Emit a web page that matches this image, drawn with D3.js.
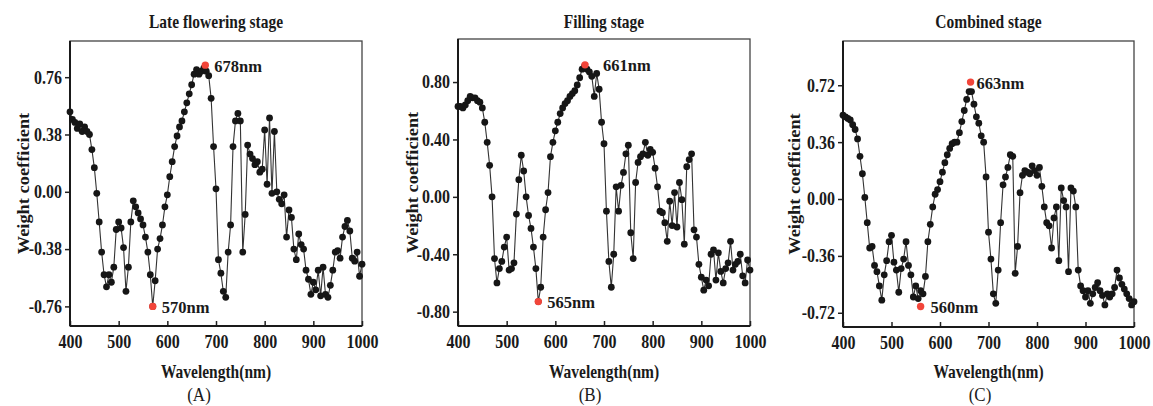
<!DOCTYPE html>
<html><head><meta charset="utf-8">
<script src="https://cdn.jsdelivr.net/npm/d3@7"></script>
<style>body{margin:0;background:#fff}</style>
</head><body><svg id="chart" width="1153" height="406"></svg>
<script>
// ---------------- DATA ----------------
const wavelengths = [
 400,405,410,415,420,425,430,435,440,445,
 450,455,460,465,470,475,480,485,490,495,
 500,505,510,515,520,525,530,535,540,545,
 550,555,560,565,570,575,580,585,590,595,
 600,605,610,615,620,625,630,635,640,645,
 650,655,660,665,670,675,680,685,690,695,
 700,705,710,715,720,725,730,735,740,745,
 750,755,760,765,770,775,780,785,790,795,
 800,805,810,815,820,825,830,835,840,845,
 850,855,860,865,870,875,880,885,890,895,
 900,905,910,915,920,925,930,935,940,945,
 950,955,960,965,970,975,980,985,990,995,
 1000];

const lateFlowering = [
 0.53,0.48,0.46,0.42,0.45,0.40,0.43,0.40,0.38,0.28,
 0.16,-0.01,-0.20,-0.40,-0.55,-0.63,-0.55,-0.60,-0.50,-0.25,
 -0.20,-0.24,-0.37,-0.66,-0.50,-0.20,-0.06,-0.10,-0.14,-0.18,
 -0.22,-0.30,-0.40,-0.55,-0.76,-0.59,-0.38,-0.31,-0.22,-0.10,
 -0.02,0.10,0.20,0.30,0.37,0.43,0.47,0.53,0.59,0.65,
 0.71,0.78,0.81,0.78,0.80,0.82,0.80,0.77,0.62,0.30,
 0.02,-0.45,-0.54,-0.66,-0.70,-0.40,-0.22,0.30,0.47,0.52,
 0.47,-0.40,-0.15,0.31,0.25,0.22,0.18,0.20,0.13,0.15,
 0.41,0.05,0.49,-0.01,0.40,0.00,-0.05,-0.08,-0.02,-0.30,
 -0.12,-0.17,-0.38,-0.45,-0.28,-0.35,-0.38,-0.52,-0.58,-0.68,
 -0.60,-0.65,-0.52,-0.69,-0.50,-0.68,-0.70,-0.62,-0.52,-0.40,
 -0.39,-0.44,-0.30,-0.23,-0.19,-0.26,-0.44,-0.46,-0.40,-0.56,
 -0.48];

const filling = [
 0.63,0.63,0.62,0.64,0.67,0.70,0.69,0.69,0.67,0.66,
 0.62,0.52,0.38,0.22,0.00,-0.43,-0.60,-0.50,-0.45,-0.35,
 -0.28,-0.51,-0.50,-0.46,-0.12,0.12,0.29,0.18,0.00,-0.13,
 -0.22,-0.35,-0.50,-0.73,-0.63,-0.28,-0.09,0.03,0.28,0.38,
 0.46,0.52,0.58,0.62,0.65,0.67,0.70,0.72,0.74,0.78,
 0.83,0.89,0.91,0.89,0.87,0.84,0.70,0.86,0.75,0.52,
 0.37,-0.10,-0.45,-0.63,-0.40,0.07,-0.10,0.08,0.17,0.30,
 0.36,-0.25,-0.43,0.10,0.24,0.28,0.30,0.38,0.29,0.33,
 0.31,0.20,0.07,-0.10,-0.11,-0.18,-0.31,-0.03,-0.20,0.03,
 -0.21,0.10,-0.02,-0.33,0.21,0.26,0.30,-0.23,-0.28,-0.47,
 -0.56,-0.65,-0.58,-0.62,-0.40,-0.37,-0.58,-0.39,-0.52,-0.60,
 -0.50,-0.46,-0.31,-0.51,-0.47,-0.45,-0.40,-0.55,-0.60,-0.44,
 -0.51];

const combined = [
 0.53,0.52,0.51,0.50,0.47,0.44,0.38,0.27,0.16,0.01,
 -0.15,-0.31,-0.30,-0.42,-0.46,-0.55,-0.64,-0.48,-0.39,-0.27,
 -0.23,-0.40,-0.45,-0.59,-0.44,-0.38,-0.27,-0.42,-0.48,-0.62,
 -0.55,-0.63,-0.58,-0.60,-0.49,-0.27,-0.16,-0.05,0.03,0.06,
 0.11,0.17,0.23,0.28,0.32,0.35,0.36,0.36,0.42,0.49,
 0.56,0.63,0.68,0.68,0.60,0.52,0.48,0.40,0.36,0.14,
 -0.21,-0.38,-0.60,-0.66,-0.45,-0.15,0.09,0.14,0.20,0.28,
 0.27,-0.47,-0.30,0.04,0.15,0.18,0.17,0.16,0.21,0.18,
 0.15,0.20,0.08,-0.05,-0.15,-0.17,-0.31,-0.12,-0.05,-0.39,
 0.07,-0.01,-0.05,-0.46,0.07,0.05,-0.05,-0.45,-0.55,-0.58,
 -0.62,-0.58,-0.66,-0.60,-0.56,-0.53,-0.58,-0.61,-0.67,-0.60,
 -0.62,-0.60,-0.56,-0.45,-0.50,-0.54,-0.57,-0.60,-0.63,-0.67,
 -0.65];

const xTickValues = [400,500,600,700,800,900,1000];
const yTicksA = [-0.76,-0.38,0,0.38,0.76];
const yTicksB = [-0.80,-0.40,0,0.40,0.80];
const yTicksC = [-0.72,-0.36,0,0.36,0.72];

const titles = ["Late flowering stage","Filling stage","Combined stage"];
const panelLetters = ["(A)","(B)","(C)"];
const xAxisTitle = "Wavelength(nm)";
const yAxisTitle = "Weight coefficient";

const peakWlA = [678,570], peakValA = [0.84,-0.76];
const peakWlB = [661,565], peakValB = [0.92,-0.73];
const peakWlC = [663,560], peakValC = [0.74,-0.68];

// ---------------- LAYOUT ----------------
const font = "'Liberation Serif','Times New Roman',serif";
const stretch = 1.15;
const panels = [
 {values: lateFlowering, yTicks: yTicksA, peakWl: peakWlA, peakVal: peakValA, idx: 0,
  left: 70, right: 362, top: 41, bottom: 326, yDomain: [-0.89, 1.0],
  letterX: 199, yLabelX: 29, labelDx: [9, 9]},
 {values: filling, yTicks: yTicksB, peakWl: peakWlB, peakVal: peakValB, idx: 1,
  left: 458, right: 750, top: 39, bottom: 326, yDomain: [-0.90, 1.1],
  letterX: 590, yLabelX: 418, labelDx: [18, 9]},
 {values: combined, yTicks: yTicksC, peakWl: peakWlC, peakVal: peakValC, idx: 2,
  left: 843, right: 1134, top: 41, bottom: 327, yDomain: [-0.81, 1.0],
  letterX: 980, yLabelX: 800, labelDx: [6, 10]}
];

const svg = d3.select("#chart");
svg.append("rect").attr("width",1153).attr("height",406).attr("fill","#fff");

function addText(parent, x, y, str, size, weight, anchor, rotate) {
  return parent.append("text")
    .attr("transform", rotate
      ? `translate(${x},${y}) rotate(-90) scale(${stretch},1)`
      : `translate(${x},${y}) scale(1,${stretch})`)
    .attr("text-anchor", anchor)
    .attr("font-family", font)
    .attr("font-size", size)
    .attr("font-weight", weight)
    .attr("fill", "#1a1a1a")
    .text(str);
}

panels.forEach(p => {
  const g = svg.append("g");
  const x = d3.scaleLinear().domain([400, 1000]).range([p.left, p.right]);
  const y = d3.scaleLinear().domain(p.yDomain).range([p.bottom, p.top]);
  const cx = (p.left + p.right) / 2;

  g.append("rect").attr("x", p.left).attr("y", p.top)
    .attr("width", p.right - p.left).attr("height", p.bottom - p.top)
    .attr("fill", "none").attr("stroke", "#444").attr("stroke-width", 1.3);

  const ya = g.append("g").attr("transform", `translate(${p.left},0)`)
    .call(d3.axisLeft(y).tickValues(p.yTicks).tickFormat(d => d.toFixed(2))
      .tickSize(5).tickPadding(3));
  ya.select(".domain").remove();
  ya.selectAll(".tick line").attr("stroke", "#222").attr("stroke-width", 1.5);
  ya.selectAll(".tick text").attr("font-family", font).attr("font-size", 16)
    .attr("font-weight", "bold").attr("fill", "#1a1a1a")
    .attr("transform", `scale(1,${stretch})`);

  const xa = g.append("g").attr("transform", `translate(0,${p.bottom})`)
    .call(d3.axisBottom(x).tickValues(xTickValues).tickFormat(d => String(d))
      .tickSizeInner(-5).tickSizeOuter(0).tickPadding(8));
  xa.select(".domain").remove();
  xa.selectAll(".tick line").attr("stroke", "#222").attr("stroke-width", 1.5);
  xa.selectAll(".tick text").attr("font-family", font).attr("font-size", 16)
    .attr("font-weight", "bold").attr("fill", "#1a1a1a")
    .attr("transform", `scale(1,${stretch})`);

  g.append("line").attr("x1", p.left).attr("x2", p.left).attr("y1", p.top).attr("y2", p.bottom)
    .attr("stroke", "#1a1a1a").attr("stroke-width", 2);
  g.append("line").attr("x1", p.left).attr("x2", p.right).attr("y1", p.bottom).attr("y2", p.bottom)
    .attr("stroke", "#1a1a1a").attr("stroke-width", 2);

  const pts = wavelengths.map((w, i) => [w, p.values[i]]);
  g.append("path").datum(pts)
    .attr("d", d3.line().x(d => x(d[0])).y(d => y(d[1])))
    .attr("fill", "none").attr("stroke", "#333").attr("stroke-width", 1.1);
  g.selectAll("circle.pt").data(pts).join("circle").attr("class", "pt")
    .attr("cx", d => x(d[0])).attr("cy", d => y(d[1])).attr("r", 3.4)
    .attr("fill", "#161616");

  p.peakWl.forEach((w, i) => {
    const v = p.peakVal[i];
    g.append("circle").attr("cx", x(w)).attr("cy", y(v)).attr("r", 3.7)
      .attr("fill", "#f2453a");
    g.append("text").attr("x", x(w) + p.labelDx[i]).attr("y", y(v) + 1)
      .attr("dominant-baseline", "central")
      .attr("font-family", font).attr("font-size", 16.5).attr("font-weight", "bold")
      .attr("fill", "#1a1a1a").text(w + "nm");
  });

  addText(g, cx, 28, titles[p.idx], 15.5, "bold", "middle", false);
  addText(g, cx, 378, xAxisTitle, 15.5, "bold", "middle", false);
  addText(g, p.yLabelX, (p.top + p.bottom) / 2, yAxisTitle, 16, "bold", "middle", true);
  addText(g, p.letterX, 401, panelLetters[p.idx], 17, "normal", "middle", false);
});
</script>
</body></html>
